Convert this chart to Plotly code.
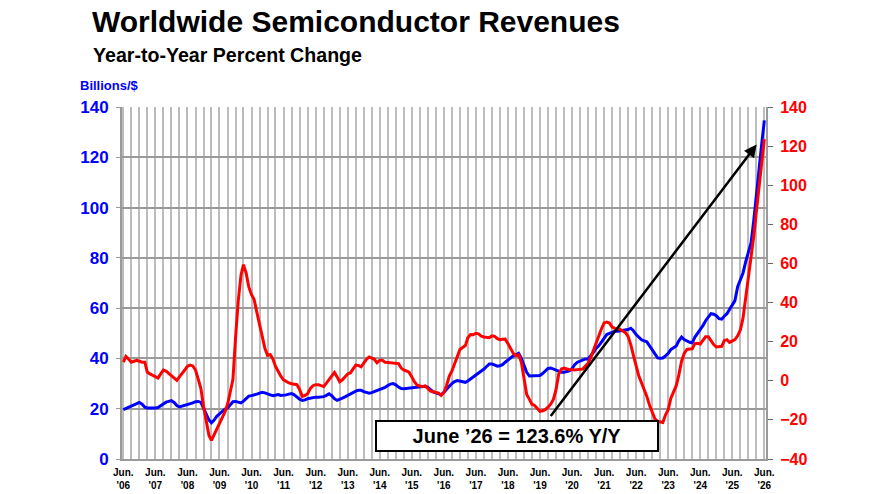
import pandas as pd
import plotly.graph_objects as go

# -----------------------
# Data (monthly, Jun '06 -> Jun '26)
# -----------------------
start_month = "2006-06-01"

# Year-to-year % change (right axis, red); each row = Jun..May
yoy_pct = [
    9.5, 12.5, 11, 9.5, 10, 10.5, 10, 9.5, 9.5, 4.5, 3.5, 2.8,            # Jun '06
    2, 1.4, 3.5, 5.5, 5, 3.8, 2.5, 1, 0.2, 2, 3.5, 5.5,                  # Jun '07
    7.4, 8, 7.6, 5.5, 1, -4, -13, -21, -28, -30.5, -27.5, -24,           # Jun '08
    -21, -18.5, -16, -12, -6, 0.6, 22, 41, 54, 59.4, 55, 48,             # Jun '09
    44, 41.5, 35, 28, 22.7, 16.5, 13, 13.4, 11, 7.4, 4.5, 2.3,           # Jun '10
    0.5, -0.5, -1.1, -1.5, -1.8, -2, -4.5, -8, -7.5, -6.6, -4, -2.5,     # Jun '11
    -2, -2, -2.5, -2.9, -1.2, 0.5, 2.5, 4.3, 2, -0.5, 0.5, 2,            # Jun '12
    3.5, 4, 6, 8, 7.8, 7.1, 9, 11, 12.2, 11.8, 11, 9.2,                  # Jun '13
    10.5, 10.5, 9.5, 9.4, 9.2, 9.3, 9.1, 8.8, 6.5, 5.5, 5, 4.4,          # Jun '14
    2, -0.5, -2.2, -2.5, -3, -2.6, -4.2, -5.3, -5.6, -6, -6.3, -7.5,     # Jun '15
    -6, -2.5, 2.3, 5, 9, 13, 16, 17, 18, 22, 23.6, 23.5,                 # Jun '16
    24.3, 24, 22.8, 22.4, 22.2, 22, 23, 22.7, 21.5, 21, 21.2, 21.3,      # Jun '17
    19, 16.5, 14, 12.8, 13.2, 9.5, 1, -7, -9.5, -12, -12.6, -14,         # Jun '18
    -15.6, -15.3, -14.8, -13.5, -12, -9.5, -4.6, 3.5, 6, 6.5, 6, 5.7,    # Jun '19
    5.7, 5.5, 5.7, 5.8, 6, 7.5, 9, 12, 16, 19.5, 22.7, 26.5,             # Jun '20
    29.6, 30, 29.5, 27.5, 26.8, 26.5, 26.3, 25.5, 24.5, 22.7, 18.5, 13,  # Jun '21
    7, 2.5, -1, -4.5, -8, -12.5, -16, -19.5, -20.8, -21, -21.3, -17.5,   # Jun '22
    -14.8, -9, -5.5, -2.5, 3, 10, 14, 16, 16.2, 16.3, 19, 19.2,          # Jun '23
    18.8, 20.5, 22.5, 22.5, 20.5, 18.5, 17.3, 17.5, 17.6, 20.5, 21, 19.6,  # Jun '24
    20.2, 21, 23, 26.1, 32, 42, 53, 62, 74, 86, 98.5, 111,               # Jun '25
    123.6,                                                               # Jun '26
]

# Revenues, billions of $ (left axis, blue)
revenue_bn = [
    19.6, 20, 20.5, 21, 21.5, 22, 22.5, 21.8, 20.6, 20.3, 20.2, 20.3,
    20.3, 20.5, 21.2, 22, 22.6, 22.9, 23.2, 22.5, 21.3, 20.7, 21, 21.3,
    21.6, 21.9, 22.3, 22.8, 22.9, 22.5, 20, 17.5, 15.5, 14.4, 15.5, 17,
    18, 19, 19.8, 20.3, 21.5, 22.8, 22.9, 22.6, 22.3, 23, 24, 25,
    25.2, 25.4, 25.8, 26.2, 26.5, 26.3, 25.8, 25.5, 25.2, 25.5, 25.6, 25.3,
    25.3, 25.5, 25.8, 26, 25.5, 24.5, 23.8, 23.3, 23.5, 24, 24.3, 24.5,
    24.6, 24.6, 24.7, 24.8, 25.3, 25.9, 25.2, 24, 23.3, 23.6, 24.2, 24.7,
    25.3, 26, 26.6, 27, 27.3, 27.3, 26.8, 26.4, 26.2, 26.4, 26.8, 27.2,
    27.5, 28, 28.5, 29.2, 29.8, 30, 29.5, 28.6, 28, 27.9, 28, 28.2,
    28.3, 28.4, 28.5, 28.6, 28.8, 28.9, 28.5, 27.5, 26.7, 26.3, 26, 25.6,
    26.5, 27.8, 28.9, 30, 30.8, 31.2, 31, 30.6, 30.5, 31, 31.8, 32.5,
    33.2, 34.2, 35, 35.8, 36.8, 37.8, 37.8, 37.2, 36.9, 37.1, 37.5, 38.5,
    39.4, 40.2, 41, 41.4, 42, 40, 37, 34.5, 33, 33, 33.1, 33.2,
    33.2, 34, 35, 36, 36.2, 35.8, 35.5, 35, 34.5, 34.5, 34.8, 35,
    36, 37.5, 38.5, 39, 39.5, 39.8, 39.8, 41, 42.5, 44, 45, 46.5,
    48, 49.5, 50, 50.5, 50.8, 50.8, 51, 51.2, 51.3, 51.5, 52, 51,
    49.5, 48.5, 47.4, 47, 46.6, 45, 43.5, 41.5, 40.2, 40.1, 40.2, 41,
    42, 43.5, 44.2, 45, 47, 48.5, 47.5, 46.8, 46.4, 46.2, 48.5, 50,
    51.5, 53, 55, 56.5, 57.8, 57.6, 57, 55.8, 55.6, 56.8, 57.8, 59.5,
    61.5, 63, 68.5, 71.5, 74, 78.5, 82, 86, 95, 105, 115, 125,
    134.7,
]

tick_years = ["06", "07", "08", "09", "10", "11", "12", "13", "14", "15", "16",
              "17", "18", "19", "20", "21", "22", "23", "24", "25", "26"]
tick_labels = ["Jun.<br>'" + y for y in tick_years]

left_ticks = [0, 20, 40, 60, 80, 100, 120, 140]
right_ticks = [-40, -20, 0, 20, 40, 60, 80, 100, 120, 140]

callout = "June \u201926 = 123.6% Y/Y"

# -----------------------
# Build
# -----------------------
months = pd.date_range(start_month, periods=len(yoy_pct), freq="MS")
quarters = pd.date_range(start_month, "2026-06-01", freq="3MS")
quarter_text = []
for d in quarters:
    if d.month == 6:
        quarter_text.append(tick_labels[d.year - 2006])
    else:
        quarter_text.append("")

FONT = "Liberation Sans, Arial, sans-serif"
BLUE = "#0000ff"
RED = "#ff0000"

fig = go.Figure()

fig.add_trace(go.Scatter(
    x=months, y=revenue_bn, mode="lines", name="Billions/$",
    line=dict(color=BLUE, width=3), yaxis="y"
))
fig.add_trace(go.Scatter(
    x=months, y=yoy_pct, mode="lines", name="Y/Y %",
    line=dict(color=RED, width=3), yaxis="y2"
))

# page body has an 8px margin, so the figure is sized/offset to compensate
fig.update_layout(
    width=867, height=486,
    margin=dict(l=114, r=109, t=99, b=35),
    paper_bgcolor="white", plot_bgcolor="white",
    showlegend=False,
    font=dict(family=FONT),
    xaxis=dict(
        type="date",
        range=["2006-05-17", "2026-06-20"],
        tickmode="array", tickvals=quarters, ticktext=quarter_text,
        tickfont=dict(size=10, color="black", weight="bold"),
        ticklabelstandoff=3,
        showgrid=True, gridcolor="#bdbdbd", gridwidth=1.5,
        showline=True, linecolor="#9a9a9a", linewidth=2,
        ticks="", zeroline=False, automargin=False,
    ),
    yaxis=dict(
        range=[0, 140], tickvals=left_ticks,
        tickfont=dict(size=17, color=BLUE, weight="bold"),
        ticklabelstandoff=4,
        showgrid=True, gridcolor="#9a9a9a", gridwidth=1.5,
        showline=True, linecolor="#9a9a9a", linewidth=2,
        ticks="outside", ticklen=4, tickcolor="#9a9a9a",
        zeroline=False, automargin=False,
    ),
    yaxis2=dict(
        range=[-40, 140], tickvals=right_ticks,
        overlaying="y", side="right",
        tickfont=dict(size=16, color=RED, weight="bold"),
        ticklabelstandoff=4,
        showgrid=False,
        showline=True, linecolor="#9a9a9a", linewidth=2,
        ticks="outside", ticklen=5, tickcolor="#666666",
        zeroline=False, automargin=False,
    ),
)

# Titles
fig.add_annotation(
    text="<b>Worldwide Semiconductor Revenues</b>",
    xref="paper", yref="paper", x=-0.048, y=1.244,
    xanchor="left", yanchor="middle", height=26, borderpad=0,
    showarrow=False, font=dict(size=30, color="black", family=FONT),
)
fig.add_annotation(
    text="<b>Year-to-Year Percent Change</b>",
    xref="paper", yref="paper", x=-0.048, y=1.148,
    xanchor="left", yanchor="middle",
    showarrow=False, font=dict(size=19.6, color="black", family=FONT),
)
fig.add_annotation(
    text="<b>Billions/$</b>",
    xref="paper", yref="paper", x=-0.0683, y=1.0625,
    xanchor="left", yanchor="middle", showarrow=False,
    font=dict(size=13, color=BLUE, family=FONT),
)

# Arrow to latest point
fig.add_annotation(
    x="2026-03-05", y=120.8, xref="x", yref="y2",
    ax=-207, ay=273, axref="pixel", ayref="pixel",
    text="", showarrow=True, arrowhead=2, arrowsize=1,
    arrowwidth=2.5, arrowcolor="black",
)

# Callout box
fig.add_annotation(
    text="<b>" + callout + "</b>",
    xref="paper", yref="paper", x=0.6126, y=0.0648,
    xanchor="center", yanchor="middle", showarrow=False,
    width=280, height=28, borderpad=0, borderwidth=2,
    bordercolor="black", bgcolor="white",
    font=dict(size=20, color="black", family=FONT),
)

fig.write_html("out.html")
